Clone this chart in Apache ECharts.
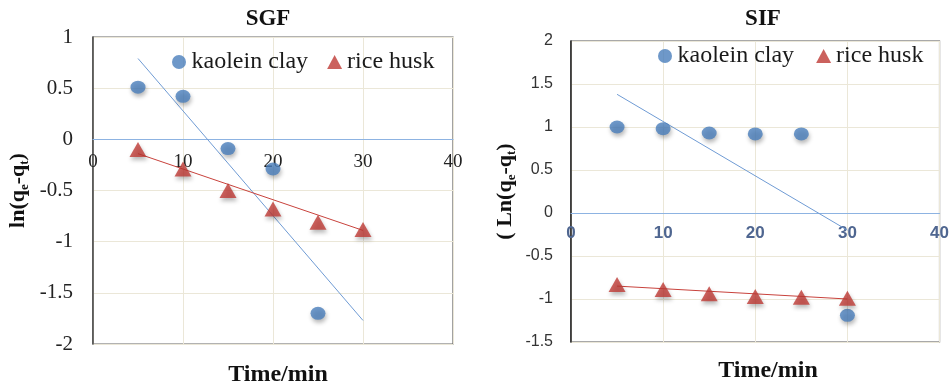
<!DOCTYPE html>
<html><head><meta charset="utf-8">
<script src="https://cdn.jsdelivr.net/npm/echarts@6/dist/echarts.min.js"></script>
<style>html,body{margin:0;padding:0;background:#fff;}#c{width:952px;height:384px;}</style>
</head><body><div id="c"></div>
<script>
// ---- data ----
const xTicks = [0, 10, 20, 30, 40];
const sgfYRange = [-2, 1];
const sifYRange = [-1.5, 2];
const sgfClayTime = [5, 10, 15, 20, 25];
const sgfClay = [0.51, 0.42, -0.09, -0.29, -1.70];
const sgfRiceTime = [5, 10, 15, 20, 25, 30];
const sgfRice = [-0.10, -0.29, -0.50, -0.68, -0.81, -0.88];
const sifTime = [5, 10, 15, 20, 25, 30];
const sifClay = [1.00, 0.98, 0.93, 0.92, 0.92, -1.19];
const sifRice = [-0.83, -0.89, -0.94, -0.97, -0.98, -0.99];
const trendTime = [5, 30];
const sgfClayTrend = [0.79, -1.77];
const sgfRiceTrend = [-0.14, -0.89];
const sifClayTrend = [1.38, -0.20];
const sifRiceTrend = [-0.85, -1.00];

const zip = (xs, ys) => xs.map((x, i) => [x, ys[i]]);
const BLUE = '#4a7ebb', RED = '#be3a34';
const SERIF = '"Liberation Serif","Times New Roman",serif';
const SANS = '"Liberation Sans",Arial,sans-serif';
const split = {show: true, lineStyle: {color: '#ebe7d8', width: 1}};
const shadow = {shadowBlur: 4, shadowColor: 'rgba(0,0,0,0.35)', shadowOffsetY: 3, shadowOffsetX: 1};

const G0 = {left: 93, top: 37, width: 360, height: 307};
const G1 = {left: 571, top: 41, width: 377, height: 301};
// place the x axis where y = 0 crosses (Excel style)
const zeroOffset = (g, r) => -g.height * (0 - r[0]) / (r[1] - r[0]);

function scatter(name, idx, data, sym, color, size) {
  return {name, type: 'scatter', xAxisIndex: idx, yAxisIndex: idx, data, symbol: sym,
    symbolSize: size, itemStyle: Object.assign({color}, shadow), z: 5};
}
function trend(idx, ys, color) {
  return {name: 'trend' + idx + color, type: 'line', xAxisIndex: idx, yAxisIndex: idx,
    data: zip(trendTime, ys), symbol: 'none', lineStyle: {color, width: 1}, z: 3, silent: true};
}
const rich = {
  a: {fontFamily: SERIF, fontWeight: 'bold', fontSize: 22, color: '#111'},
  s: {fontFamily: SERIF, fontWeight: 'bold', fontSize: 13, color: '#111', verticalAlign: 'bottom', padding: [12, 0, 0, 0]}
};
const legendData = [{name: 'kaolein clay', icon: 'circle'}, {name: 'rice husk', icon: 'triangle'}];

const chart = echarts.init(document.getElementById('c'));
chart.setOption({
  animation: false,
  title: [
    {text: 'SGF', left: 263, top: 3, textAlign: 'center', textStyle: {fontFamily: SERIF, fontWeight: 'bold', fontSize: 23, color: '#111'}},
    {text: 'SIF', left: 758, top: 3, textAlign: 'center', textStyle: {fontFamily: SERIF, fontWeight: 'bold', fontSize: 23, color: '#111'}},
    {text: 'Time/min', left: 273, top: 358, textAlign: 'center', textStyle: {fontFamily: SERIF, fontWeight: 'bold', fontSize: 24, color: '#111'}},
    {text: 'Time/min', left: 763, top: 354, textAlign: 'center', textStyle: {fontFamily: SERIF, fontWeight: 'bold', fontSize: 24, color: '#111'}}
  ],
  legend: [
    {left: 167, top: 45, itemGap: 19, itemWidth: 15, itemHeight: 14, data: legendData,
     textStyle: {fontFamily: SERIF, fontSize: 24, color: '#1a1a1a'}},
    {left: 653, top: 39, itemGap: 22, itemWidth: 15, itemHeight: 14, data: legendData,
     textStyle: {fontFamily: SERIF, fontSize: 24, color: '#1a1a1a'}}
  ],
  grid: [
    Object.assign({show: true, borderColor: '#666', borderWidth: 1.2}, G0),
    Object.assign({show: true, borderColor: '#555', borderWidth: 1.2}, G1)
  ],
  xAxis: [
    {gridIndex: 0, type: 'value', min: xTicks[0], max: xTicks[xTicks.length - 1], interval: 10,
     position: 'bottom', offset: zeroOffset(G0, sgfYRange),
     axisLine: {onZero: false, lineStyle: {color: '#8db3e2', width: 1.2}}, axisTick: {show: false},
     axisLabel: {margin: 13, fontFamily: SERIF, fontSize: 19, color: '#222'}, splitLine: split},
    {gridIndex: 1, type: 'value', min: xTicks[0], max: xTicks[xTicks.length - 1], interval: 10,
     position: 'bottom', offset: zeroOffset(G1, sifYRange),
     axisLine: {onZero: false, lineStyle: {color: '#8db3e2', width: 1.2}}, axisTick: {show: false},
     axisLabel: {margin: 12, fontFamily: SANS, fontSize: 17, fontWeight: 'bold', color: '#4f6690'}, splitLine: split}
  ],
  yAxis: [
    {gridIndex: 0, type: 'value', min: sgfYRange[0], max: sgfYRange[1], interval: 0.5,
     axisLine: {show: true, onZero: false, lineStyle: {color: '#444', width: 1.5}}, axisTick: {show: false},
     axisLabel: {margin: 20, fontFamily: SERIF, fontSize: 21, color: '#222'}, splitLine: split,
     name: '{a|ln(q}{s|e}{a|-q}{s|t}{a|)}', nameLocation: 'middle', nameGap: 62, nameRotate: 90,
     nameTextStyle: {rich}},
    {gridIndex: 1, type: 'value', min: sifYRange[0], max: sifYRange[1], interval: 0.5,
     axisLine: {show: true, onZero: false, lineStyle: {color: '#222', width: 1.5}}, axisTick: {show: false},
     axisLabel: {margin: 18, fontFamily: SANS, fontSize: 16, color: '#333'}, splitLine: split,
     name: '{a|( Ln(q}{s|e}{a|-q}{s|t}{a|)}', nameLocation: 'middle', nameGap: 53, nameRotate: 90,
     nameTextStyle: {rich}}
  ],
  series: [
    trend(0, sgfClayTrend, '#6f9bd4'),
    trend(0, sgfRiceTrend, '#c8423c'),
    trend(1, sifClayTrend, '#6f9bd4'),
    trend(1, sifRiceTrend, '#c8423c'),
    scatter('kaolein clay', 0, zip(sgfClayTime, sgfClay), 'circle', BLUE, [15, 13]),
    scatter('rice husk', 0, zip(sgfRiceTime, sgfRice), 'triangle', RED, [17, 15]),
    scatter('kaolein clay', 1, zip(sifTime, sifClay), 'circle', BLUE, [15, 13]),
    scatter('rice husk', 1, zip(sifTime, sifRice), 'triangle', RED, [17, 15])
  ]
});
</script></body></html>
